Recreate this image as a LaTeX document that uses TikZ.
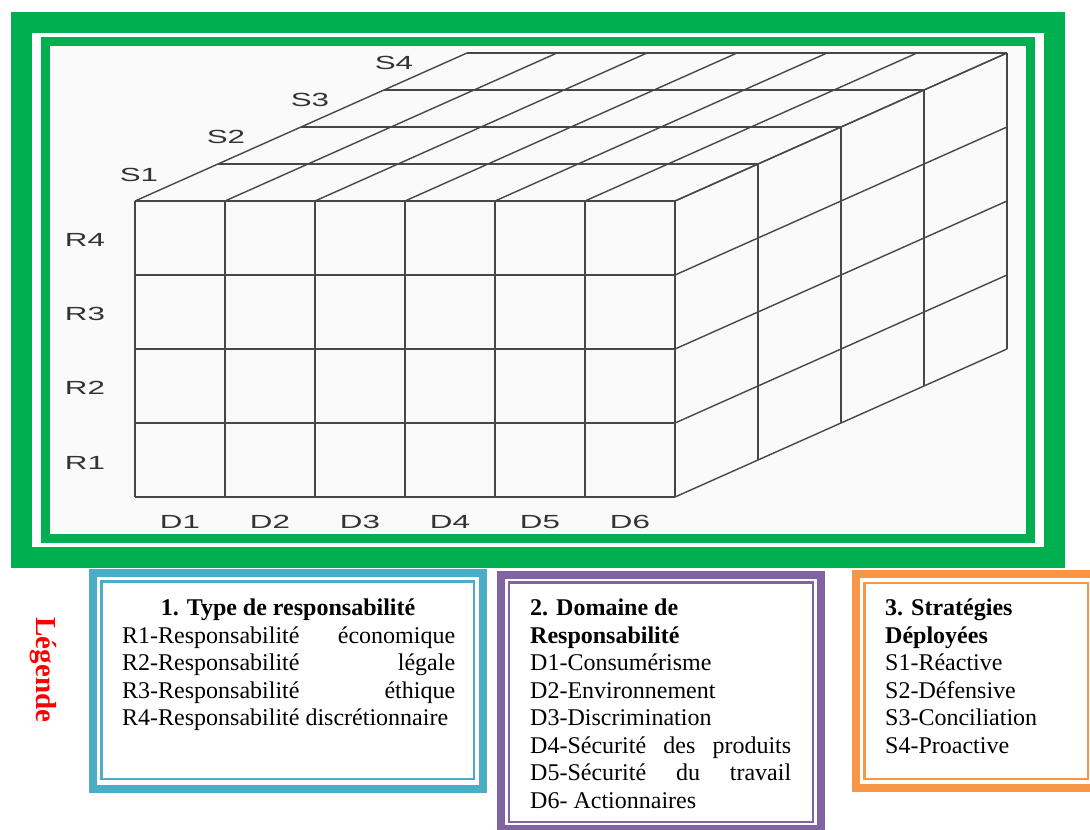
\documentclass[tikz,border=0pt]{standalone}
\usepackage{graphicx}
\usepackage{fontspec}
\setmainfont{Liberation Serif}
\newfontfamily\lblfont{Liberation Sans}
\definecolor{frgreen}{HTML}{00B050}
\definecolor{bxblue}{HTML}{4BACC6}
\definecolor{bxpurple}{HTML}{8064A2}
\definecolor{bxorange}{HTML}{F79646}
\definecolor{lblgray}{HTML}{333333}
\tikzset{
  cubeline/.style={draw=black!72, line width=1.4pt},
  cubelbl/.style={font=\lblfont\fontsize{19}{19}\selectfont, text=lblgray, inner sep=0pt},
  lg/.style={font=\fontsize{24}{28}\selectfont, anchor=base west, inner sep=0pt},
  lgb/.style={lg, font=\fontsize{24}{28}\selectfont\bfseries},
  band/.style={line width=8pt},
  thinband/.style={line width=2.5pt}
}
\begin{document}
\begin{tikzpicture}[x=1pt,y=-1pt]
\useasboundingbox (0,0) rectangle (1090,830);
\clip (0,0) rectangle (1090,830);
\fill[white] (0,0) rectangle (1090,830);
% green frame
\draw[frgreen, line width=21pt] (21,22) rectangle (1054,557);
\fill[black!2] (49.5,45.5) rectangle (1025.5,533.5);
\draw[frgreen, line width=9pt] (45,41) rectangle (1030,538);
% cube
\foreach \i in {0,...,6} {
  \draw[cubeline] ({135+90*\i},201) -- ({135+90*\i},497);
  \draw[cubeline] ({135+90*\i},201) -- ({467+90*\i},53);
}
\foreach \j in {0,...,4} {
  \draw[cubeline] (135,{201+74*\j}) -- (675,{201+74*\j});
  \draw[cubeline] (675,{201+74*\j}) -- (1007,{53+74*\j});
}
\foreach \k in {1,...,4} {
  \draw[cubeline] ({135+83*\k},{201-37*\k}) -- ({675+83*\k},{201-37*\k});
  \draw[cubeline] ({675+83*\k},{201-37*\k}) -- ({675+83*\k},{497-37*\k});
}
% cube labels
\node[cubelbl] (r4) at (85,240) {\scalebox{1.65}[1]{R4}};
\node[cubelbl] (r3) at (85,314) {\scalebox{1.65}[1]{R3}};
\node[cubelbl] (r2) at (85,388) {\scalebox{1.65}[1]{R2}};
\node[cubelbl] (r1) at (85,463) {\scalebox{1.65}[1]{R1}};
\node[cubelbl] (d1) at (180,522) {\scalebox{1.65}[1]{D1}};
\node[cubelbl] (d2) at (270,522) {\scalebox{1.65}[1]{D2}};
\node[cubelbl] (d3) at (360,522) {\scalebox{1.65}[1]{D3}};
\node[cubelbl] (d4) at (450,522) {\scalebox{1.65}[1]{D4}};
\node[cubelbl] (d5) at (540,522) {\scalebox{1.65}[1]{D5}};
\node[cubelbl] (d6) at (630,522) {\scalebox{1.65}[1]{D6}};
\node[cubelbl] (s1) at (139,175) {\scalebox{1.65}[1]{S1}};
\node[cubelbl] (s2) at (226,137) {\scalebox{1.65}[1]{S2}};
\node[cubelbl] (s3) at (310,100) {\scalebox{1.65}[1]{S3}};
\node[cubelbl] (s4) at (394,63) {\scalebox{1.65}[1]{S4}};
% legend label
\node[font=\fontsize{29}{29}\selectfont\bfseries, text=red, rotate=-90, inner sep=0pt] (leg) at (43,670) {Légende};
% box 1
\draw[bxblue, band] (93,573) rectangle (482.5,788.5);
\draw[bxblue, thinband] (101.5,581.5) rectangle (474,779);
\node[lgb, anchor=base] (t1) at (288,615) {1. Type de responsabilité};
\node[lg] (l1a) at (122,643) {\makebox[333pt][s]{R1-Responsabilité économique}};
\node[lg] (l1b) at (122,670.5) {\makebox[333pt][s]{R2-Responsabilité légale}};
\node[lg] (l1c) at (122,698) {\makebox[333pt][s]{R3-Responsabilité éthique}};
\node[lg] (l1d) at (122,725.5) {R4-Responsabilité discrétionnaire};
% box 2
\draw[bxpurple, band] (501,575) rectangle (820.5,829);
\draw[bxpurple, thinband] (509,582.5) rectangle (813,822);
\node[lgb] (t2a) at (530,615) {2. Domaine de};
\node[lgb] (t2b) at (530,643) {Responsabilité};
\node[lg] (l2a) at (530,670.5) {D1-Consumérisme};
\node[lg] (l2b) at (530,698) {D2-Environnement};
\node[lg] (l2c) at (530,725.5) {D3-Discrimination};
\node[lg] (l2d) at (530,753) {\makebox[261pt][s]{D4-Sécurité des produits}};
\node[lg] (l2e) at (530,780.5) {\makebox[261pt][s]{D5-Sécurité du travail}};
\node[lg] (l2f) at (530,808) {D6- Actionnaires};
% box 3
\draw[bxorange, band] (855.5,573.5) rectangle (1096,787.5);
\draw[bxorange, thinband] (864.5,583) rectangle (1088,779);
\node[lgb] (t3a) at (885,615) {3. Stratégies};
\node[lgb] (t3b) at (885,643) {Déployées};
\node[lg] (l3a) at (885,670.5) {S1-Réactive};
\node[lg] (l3b) at (885,698) {S2-Défensive};
\node[lg] (l3c) at (885,725.5) {S3-Conciliation};
\node[lg] (l3d) at (885,753) {S4-Proactive};
\end{tikzpicture}
\end{document}
